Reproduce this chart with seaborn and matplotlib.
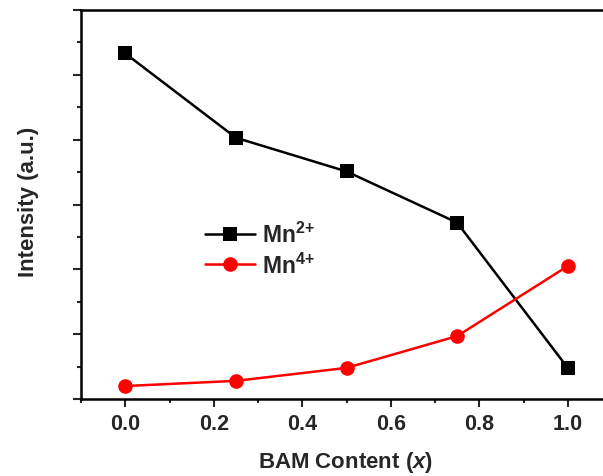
import matplotlib
matplotlib.use("Agg")
import matplotlib.pyplot as plt
import seaborn as sns
import pandas as pd
from matplotlib.ticker import MultipleLocator

content = [0.0, 0.25, 0.5, 0.75, 1.0]
mn2 = [5.33, 4.03, 3.51, 2.72, 0.48]
mn4 = [0.20, 0.28, 0.48, 0.97, 2.05]
x_ticks = [0.0, 0.2, 0.4, 0.6, 0.8, 1.0]
x_tick_labels = ["0.0", "0.2", "0.4", "0.6", "0.8", "1.0"]

sns.set_theme(style="ticks")
plt.rcParams["font.family"] = ["Liberation Sans", "DejaVu Sans"]
plt.rcParams["font.weight"] = "bold"
plt.rcParams["mathtext.fontset"] = "custom"
plt.rcParams["mathtext.rm"] = "Liberation Sans:bold"
plt.rcParams["mathtext.bf"] = "Liberation Sans:bold"
plt.rcParams["mathtext.it"] = "Liberation Sans:italic:bold"

df2 = pd.DataFrame({"x": content, "y": mn2})
df4 = pd.DataFrame({"x": content, "y": mn4})

fig = plt.figure(figsize=(6.03, 4.77), dpi=100)
W, H = 612 - 81, 400 - 11
ax = fig.add_axes([81 / 603, 77 / 477, W / 603, H / 477])

sns.lineplot(data=df2, x="x", y="y", ax=ax, color="black", lw=1.8,
             marker="s", markersize=9.5, markeredgewidth=0, label=r"Mn$^{\mathbf{2{+}}}$")
sns.lineplot(data=df4, x="x", y="y", ax=ax, color="#ff0000", lw=1.8,
             marker="o", markersize=10.5, markeredgewidth=0, label=r"Mn$^{\mathbf{4{+}}}$")

ax.set_xlim(-0.1, 1.1)
ax.set_ylim(0, 6)
ax.set_xticks(x_ticks)
ax.set_xticklabels(x_tick_labels)
ax.xaxis.set_minor_locator(MultipleLocator(0.1))
ax.yaxis.set_major_locator(MultipleLocator(1))
ax.yaxis.set_minor_locator(MultipleLocator(0.5))
ax.set_yticklabels([])
ax.tick_params(axis="both", which="major", direction="out", length=5.5, width=1.5,
               labelsize=15.5, pad=4.5)
ax.tick_params(axis="both", which="minor", direction="out", length=3.2, width=1.5)
for lab in ax.get_xticklabels():
    lab.set_fontweight("bold")
for s in ax.spines.values():
    s.set_linewidth(1.8)
    s.set_color("black")

ax.set_xlabel(r"BAM Content ($\mathit{x}$)", fontsize=16, fontweight="bold")
ax.xaxis.set_label_coords((346 - 81) / W, -(450 - 400) / H)
ax.set_ylabel("Intensity (a.u.)", fontsize=16, fontweight="bold")
ax.yaxis.set_label_coords(-(81 - 39) / W, 0.51)

leg = ax.legend(loc="upper left", bbox_to_anchor=((205 - 81) / W, (400 - 223) / H),
                frameon=False, borderpad=0, borderaxespad=0,
                fontsize=16.5, handlelength=2.2, handletextpad=0.3, labelspacing=0.22)
for t in leg.get_texts():
    t.set_fontweight("bold")

fig.savefig("out.png", dpi=100, facecolor="white")
